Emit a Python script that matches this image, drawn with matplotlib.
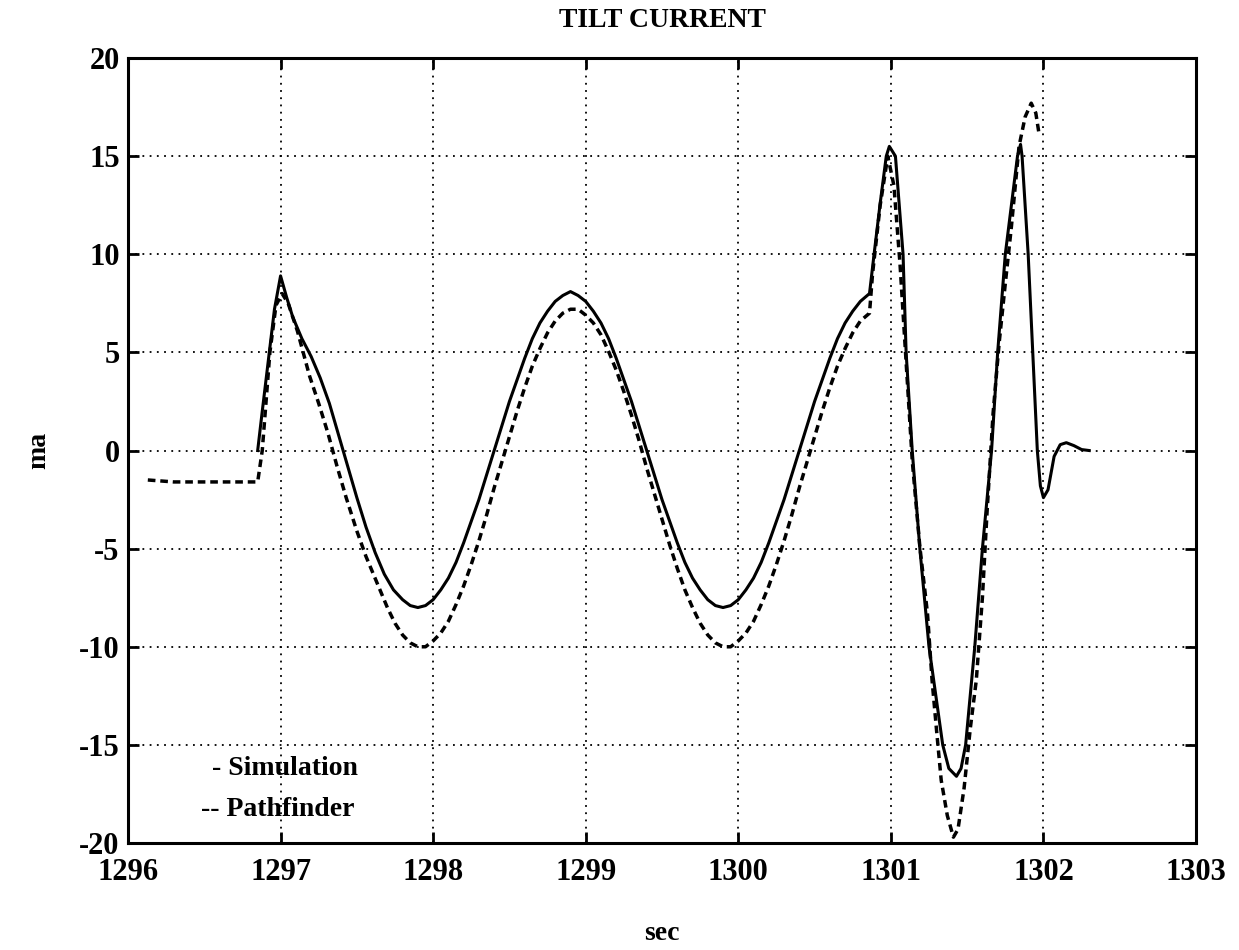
import matplotlib
matplotlib.use("Agg")
import matplotlib.pyplot as plt

plt.rcParams['font.family'] = ['Liberation Serif', 'DejaVu Serif']
plt.rcParams['font.weight'] = 'bold'
plt.rcParams['axes.unicode_minus'] = False

# Simulation (solid)
sim_t = [1296.85, 1296.88, 1296.92, 1296.96, 1297.00, 1297.04, 1297.08, 1297.14,
         1297.20, 1297.26, 1297.32, 1297.38, 1297.44, 1297.50, 1297.56, 1297.62,
         1297.68, 1297.74, 1297.80, 1297.85, 1297.90, 1297.95,
         1298.00, 1298.05, 1298.10, 1298.15, 1298.20, 1298.25, 1298.30, 1298.35,
         1298.40, 1298.45, 1298.50, 1298.55, 1298.60, 1298.65, 1298.70, 1298.75,
         1298.80, 1298.85, 1298.90, 1298.95, 1299.00, 1299.05, 1299.10, 1299.15,
         1299.20, 1299.25, 1299.30, 1299.35, 1299.40, 1299.45, 1299.50, 1299.55,
         1299.60, 1299.65, 1299.70, 1299.75, 1299.80, 1299.85, 1299.90, 1299.95,
         1300.00, 1300.05, 1300.10, 1300.15, 1300.20, 1300.25, 1300.30, 1300.35,
         1300.40, 1300.45, 1300.50, 1300.55, 1300.60, 1300.65, 1300.70, 1300.75,
         1300.80, 1300.86,
         1300.89, 1300.93, 1300.97, 1300.99, 1301.03, 1301.08, 1301.10, 1301.14,
         1301.19, 1301.25, 1301.34, 1301.38, 1301.43, 1301.46, 1301.49, 1301.55,
         1301.60, 1301.66, 1301.70, 1301.75, 1301.83, 1301.85, 1301.86, 1301.90,
         1301.93, 1301.96, 1301.98, 1302.00, 1302.03, 1302.07, 1302.11, 1302.15,
         1302.20, 1302.25, 1302.30]
sim_y = [0.0, 2.0, 4.6, 7.2, 8.9, 7.8, 6.8, 5.7,
         4.8, 3.7, 2.4, 0.8, -0.8, -2.4, -3.9, -5.2,
         -6.3, -7.1, -7.6, -7.9, -8.0, -7.9,
         -7.6, -7.1, -6.5, -5.7, -4.7, -3.6, -2.5, -1.25,
         0.0, 1.25, 2.5, 3.6, 4.7, 5.7, 6.5, 7.1,
         7.6, 7.9, 8.1, 7.9, 7.6, 7.1, 6.5, 5.7,
         4.7, 3.6, 2.5, 1.25, 0.0, -1.25, -2.5, -3.6,
         -4.7, -5.7, -6.5, -7.1, -7.6, -7.9, -8.0, -7.9,
         -7.6, -7.1, -6.5, -5.7, -4.7, -3.6, -2.5, -1.25,
         0.0, 1.25, 2.5, 3.6, 4.7, 5.7, 6.5, 7.1,
         7.6, 8.0,
         10.0, 12.6, 15.0, 15.5, 15.0, 10.0, 5.0, 0.0,
         -5.0, -10.0, -15.0, -16.2, -16.6, -16.2, -15.0, -10.0,
         -5.0, 0.0, 5.0, 10.0, 15.0, 15.6, 15.0, 10.0,
         5.0, 0.0, -1.8, -2.4, -2.0, -0.3, 0.3, 0.4,
         0.25, 0.05, 0.0]

# Pathfinder (dashed)
pf_t = [1296.13, 1296.30, 1296.60, 1296.85, 1296.88, 1296.93, 1296.97, 1297.01,
        1297.05, 1297.11, 1297.19, 1297.25, 1297.31, 1297.37, 1297.43, 1297.50,
        1297.56, 1297.63, 1297.70, 1297.75, 1297.80, 1297.85, 1297.90, 1297.95,
        1298.00, 1298.05, 1298.10, 1298.15, 1298.20, 1298.25, 1298.30, 1298.35,
        1298.40, 1298.45, 1298.50, 1298.55, 1298.60, 1298.65, 1298.70, 1298.75,
        1298.80, 1298.85, 1298.90, 1298.95, 1299.00, 1299.05, 1299.10, 1299.15,
        1299.20, 1299.25, 1299.30, 1299.35, 1299.40, 1299.45, 1299.50, 1299.55,
        1299.60, 1299.65, 1299.70, 1299.75, 1299.80, 1299.85, 1299.90, 1299.95,
        1300.00, 1300.05, 1300.10, 1300.15, 1300.20, 1300.25, 1300.30, 1300.35,
        1300.40, 1300.45, 1300.50, 1300.55, 1300.60, 1300.65, 1300.70, 1300.75,
        1300.80, 1300.86,
        1300.88, 1300.93, 1300.98, 1301.02, 1301.06, 1301.10, 1301.14, 1301.19,
        1301.24, 1301.27, 1301.30, 1301.33, 1301.37, 1301.41, 1301.44, 1301.48,
        1301.52, 1301.56, 1301.60, 1301.63, 1301.67, 1301.71, 1301.75, 1301.79,
        1301.84, 1301.88, 1301.92, 1301.95, 1301.97]
pf_y = [-1.5, -1.6, -1.6, -1.6, 0.0, 5.0, 7.4, 8.0,
        7.5, 6.1, 3.8, 2.4, 0.9, -0.8, -2.4, -4.1,
        -5.4, -6.7, -8.0, -8.8, -9.4, -9.8, -10.0, -10.0,
        -9.7, -9.3, -8.7, -7.85, -6.9, -5.8, -4.6, -3.3,
        -1.9, -0.6, 0.7, 2.0, 3.2, 4.3, 5.2, 6.0,
        6.6, 7.0, 7.2, 7.2, 6.9, 6.5, 5.9, 5.05,
        4.1, 3.0, 1.8, 0.5, -0.9, -2.2, -3.5, -4.8,
        -6.0, -7.1, -8.0, -8.8, -9.4, -9.8, -10.0, -10.0,
        -9.7, -9.3, -8.7, -7.85, -6.9, -5.8, -4.6, -3.3,
        -1.9, -0.6, 0.7, 2.0, 3.2, 4.3, 5.2, 6.0,
        6.6, 7.0,
        9.0, 12.5, 15.0, 13.5, 9.5, 4.5, -0.5, -4.9,
        -8.3, -11.7, -14.3, -16.8, -18.6, -19.7, -19.3, -17.2,
        -14.2, -11.7, -7.5, -3.2, 1.9, 5.5, 8.5, 11.4,
        15.5, 17.0, 17.7, 17.2, 16.2]

xticks = [1296, 1297, 1298, 1299, 1300, 1301, 1302, 1303]
yticks = [-20, -15, -10, -5, 0, 5, 10, 15, 20]

fig = plt.figure(figsize=(12.39, 9.5), dpi=100)
ax = fig.add_axes([0.1033, 0.1126, 0.862, 0.8263])

ax.plot(sim_t, sim_y, color='black', lw=2.2, solid_joinstyle='round')
ax.plot(pf_t, pf_y, color='black', lw=2.5, linestyle=(0, (2.2, 1.4)))

ax.set_xlim(1296, 1303)
ax.set_ylim(-20, 20)
ax.set_xticks(xticks)
ax.set_yticks(yticks)
ax.grid(True, color='black', linestyle=(0, (1, 3)), linewidth=1.3)

ax.tick_params(direction='in', length=8, width=2, top=True, right=True,
               labelsize=22)
ax.tick_params(axis='y', pad=6)
ax.tick_params(axis='x', pad=11)
for s in ax.spines.values():
    s.set_linewidth(2.2)

ax.set_title('TILT CURRENT', fontsize=20, fontweight='bold', pad=22)
ax.set_xlabel('sec', fontsize=20, fontweight='bold', labelpad=24)
ax.set_ylabel('ma', fontsize=20, fontweight='bold', labelpad=20)

ax.text(1296.55, -16.2, '- Simulation', fontsize=20, ha='left', va='center')
ax.text(1296.48, -18.3, '-- Pathfinder', fontsize=20, ha='left', va='center')

fig.savefig('out.png', dpi=100)
